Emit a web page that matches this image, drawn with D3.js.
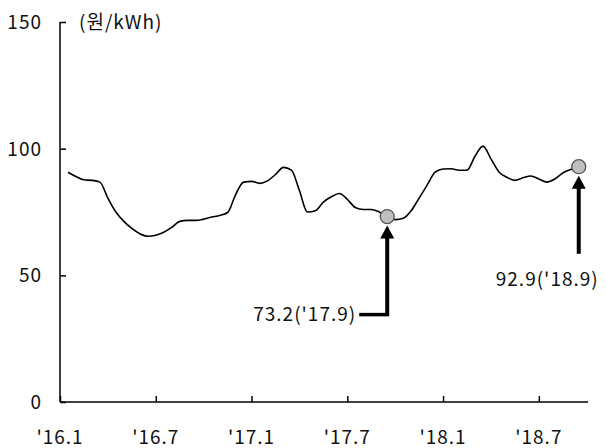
<!DOCTYPE html>
<html>
<head>
<meta charset="utf-8">
<script src="https://cdn.jsdelivr.net/npm/d3@7"></script>
<style>
  body { margin: 0; background: #fff; }
  text { font-family: "Noto Sans CJK KR", "Noto Sans", sans-serif; fill: #111; letter-spacing: 1px; }
</style>
</head>
<body>
<script>
// month index from '16.1 (0 = start of Jan 2016), half-month steps
let months = d3.range(0.5, 33, 0.5);
let prices = [90.7, 89.0, 87.7, 87.5, 86.8, 80.5, 75.0, 71.3, 68.5, 66.4,
              65.4, 65.8, 67.0, 68.9, 71.3, 71.7, 71.7, 72.2, 73.0, 73.6,
              74.8, 81.8, 86.8, 87.1, 86.3, 87.3, 89.8, 92.6, 91.5, 83.5,
              75.0, 75.5, 78.9, 81.0, 82.3, 80.0, 76.8, 76.0, 76.0, 75.0,
              73.2, 72.0, 72.5, 75.5, 80.5, 85.6, 90.7, 92.0, 92.1, 91.5,
              91.5, 97.0, 101.0, 96.0, 90.8, 88.7, 87.5, 88.5, 89.2, 88.0,
              86.8, 88.0, 90.4, 91.8, 92.9];
let xTicks = [0, 6, 12, 18, 24, 30];
let xLabels = ["'16.1", "'16.7", "'17.1", "'17.7", "'18.1", "'18.7"];
let yTicks = [0, 50, 100, 150];
let unit = "(원/kWh)";
let marks = [
    {m: 20.5, v: 73.2, label: "73.2('17.9)"},
    {m: 32.5, v: 92.9, label: "92.9('18.9)"}
];

let canvas = d3.select("body")
            .append("svg")
            .attr("width", 606)
            .attr("height", 448);

let x = d3.scaleLinear().domain([0, 33.08]).range([60, 588]);
let y = d3.scaleLinear().domain([0, 150]).range([402, 22]);
let fs = 19;

// y axis
let yAxis = canvas.append("g")
            .attr("transform", "translate(60,0)")
            .call(d3.axisRight(y).tickValues(yTicks).tickSize(6).tickFormat(""));
yAxis.select(".domain").attr("d", "M0," + y(150) + "V" + y(0));
yAxis.selectAll("line, path").attr("stroke", "#000").attr("stroke-width", 1.5);

canvas.selectAll(".ylab")
    .data(yTicks)
    .enter().append("text")
    .attr("x", 42)
    .attr("y", d => y(d))
    .attr("dy", "0.36em")
    .attr("text-anchor", "end")
    .attr("font-size", fs)
    .text(d => d);

// x axis
let xAxis = canvas.append("g")
            .attr("transform", "translate(0,402)")
            .call(d3.axisTop(x).tickValues(xTicks).tickSize(6).tickFormat(""));
xAxis.select(".domain").attr("d", "M60,0H588");
xAxis.selectAll("line, path").attr("stroke", "#000").attr("stroke-width", 1.5);

canvas.selectAll(".xlab")
    .data(xTicks)
    .enter().append("text")
    .attr("x", d => x(d))
    .attr("y", 437)
    .attr("dy", "0.36em")
    .attr("text-anchor", "middle")
    .attr("font-size", fs)
    .text((d, i) => xLabels[i]);

canvas.append("text")
    .attr("x", 79)
    .attr("y", 22)
    .attr("dy", "0.36em")
    .attr("font-size", fs)
    .text(unit);

// price line
let line = d3.line()
            .x((d, i) => x(months[i]))
            .y(d => y(d))
            .curve(d3.curveMonotoneX);

canvas.append("path")
    .datum(prices)
    .attr("d", line)
    .attr("fill", "none")
    .attr("stroke", "#000")
    .attr("stroke-width", 1.6);

// arrows
let arrow = (px, tipY, baseY) => {
    canvas.append("path")
        .attr("d", "M" + px + "," + tipY + "L" + (px - 7) + "," + (tipY + 13) +
                   "L" + (px + 7) + "," + (tipY + 13) + "Z")
        .attr("fill", "#000");
    canvas.append("line")
        .attr("x1", px).attr("y1", tipY + 12)
        .attr("x2", px).attr("y2", baseY)
        .attr("stroke", "#000")
        .attr("stroke-width", 4);
};

// '17.9 : elbow arrow, label to the left
let a = marks[0];
arrow(x(a.m), y(a.v) + 9, y(34.5));
canvas.append("path")
    .attr("d", "M" + (x(a.m) + 2) + "," + y(34.5) + "H" + (x(a.m) - 28))
    .attr("stroke", "#000")
    .attr("stroke-width", 3.5);
canvas.append("text")
    .attr("x", x(a.m) - 31)
    .attr("y", y(34.5))
    .attr("dy", "0.36em")
    .attr("text-anchor", "end")
    .attr("font-size", fs)
    .text(a.label);

// '18.9 : straight arrow, label below
let b = marks[1];
arrow(x(b.m), y(b.v) + 9, y(58.5));
canvas.append("text")
    .attr("x", x(b.m) + 20)
    .attr("y", y(48.5))
    .attr("dy", "0.36em")
    .attr("text-anchor", "end")
    .attr("font-size", fs)
    .text(b.label);

// highlight circles
canvas.selectAll(".pt")
    .data(marks)
    .enter().append("circle")
    .attr("cx", d => x(d.m))
    .attr("cy", d => y(d.v))
    .attr("r", 7)
    .attr("fill", "#c0c0c0")
    .attr("stroke", "#555")
    .attr("stroke-width", 1.3);
</script>
</body>
</html>
